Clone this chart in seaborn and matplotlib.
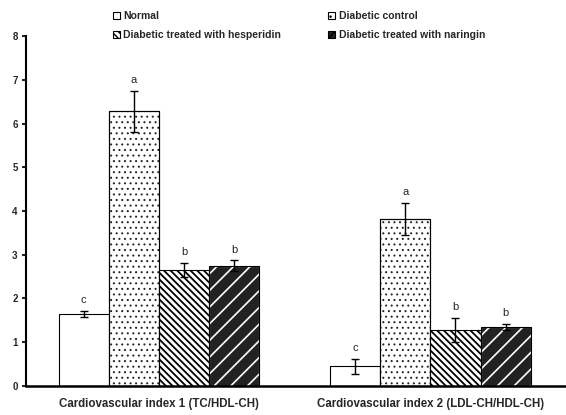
import matplotlib
matplotlib.use("Agg")
import matplotlib.pyplot as plt
from matplotlib.patches import Patch, Rectangle
import seaborn as sns
import pandas as pd

# values
categories = ["Cardiovascular index 1 (TC/HDL-CH)", "Cardiovascular index 2 (LDL-CH/HDL-CH)"]
groups = ["Normal", "Diabetic control", "Diabetic treated with hesperidin", "Diabetic treated with naringin"]
means = {
    "Normal": [1.65, 0.45],
    "Diabetic control": [6.28, 3.82],
    "Diabetic treated with hesperidin": [2.65, 1.28],
    "Diabetic treated with naringin": [2.75, 1.35],
}
errors = {
    "Normal": [0.07, 0.17],
    "Diabetic control": [0.47, 0.37],
    "Diabetic treated with hesperidin": [0.17, 0.28],
    "Diabetic treated with naringin": [0.12, 0.07],
}
letters = {
    "Normal": ["c", "c"],
    "Diabetic control": ["a", "a"],
    "Diabetic treated with hesperidin": ["b", "b"],
    "Diabetic treated with naringin": ["b", "b"],
}

rows = []
for g in groups:
    for i, c in enumerate(categories):
        rows.append({"index": c, "group": g, "value": means[g][i]})
df = pd.DataFrame(rows)

sns.set_style("white")
plt.rcParams["font.family"] = ["Liberation Sans", "DejaVu Sans"]
plt.rcParams["hatch.linewidth"] = 1.0

# fill, edge (hatch colour), hatch, hatch linewidth
styles = {
    "Normal": ("white", "black", "", 1.0),
    "Diabetic control": ("white", "#222222", "...", 0.7),
    "Diabetic treated with hesperidin": ("white", "black", "\\\\\\\\\\", 1.3),
    "Diabetic treated with naringin": ("#222222", "white", "//", 1.2),
}

fig = plt.figure(figsize=(5.66, 4.15), dpi=100)
ax = fig.add_axes([0.046, 0.070, 0.954, 0.843])

sns.barplot(data=df, x="index", y="value", hue="group", hue_order=groups,
            order=categories, palette=["white"] * 4, width=0.74,
            errorbar=None, edgecolor="black", linewidth=0.8, ax=ax, legend=False)

for cont, g in zip(ax.containers, groups):
    fc, ec, hatch, hlw = styles[g]
    xs, tops = [], []
    for bar in cont:
        bar.set_facecolor(fc)
        bar.set_edgecolor(ec)
        bar.set_hatch(hatch)
        if hasattr(bar, "set_hatch_linewidth"):
            bar.set_hatch_linewidth(hlw)
        if ec != "black":
            ax.add_patch(Rectangle(bar.get_xy(), bar.get_width(), bar.get_height(),
                                   fill=False, edgecolor="black", linewidth=0.8, zorder=3))
        xs.append(bar.get_x() + bar.get_width() / 2)
        tops.append(bar.get_height())
    ax.errorbar(xs, tops, yerr=errors[g], fmt="none", ecolor="black",
                elinewidth=1, capsize=3, capthick=1, zorder=4)
    for x, t, e, lab in zip(xs, tops, errors[g], letters[g]):
        ax.text(x, t + e + 0.13, lab, ha="center", va="bottom", fontsize=8)

ax.set_ylim(0, 8)
ax.set_xlim(-0.49, 1.5)
ax.set_yticks(range(0, 9))
ax.set_yticklabels([str(v) for v in range(0, 9)], fontsize=7, fontweight="bold")
ax.set_xticks([0, 1])
ax.set_xticklabels(categories, fontsize=8.3, fontweight="bold")
ax.set_xticks([0.5, 1.5], minor=True)
ax.tick_params(axis="x", which="major", length=0, pad=9)
ax.tick_params(axis="x", which="minor", length=3, width=1.5, direction="out")
ax.tick_params(axis="y", length=3, width=1.5, direction="out", pad=3, left=True)
ax.set_xlabel("")
ax.set_ylabel("")
for s in ["top", "right"]:
    ax.spines[s].set_visible(False)
ax.spines["left"].set_linewidth(1.5)
ax.spines["bottom"].set_linewidth(1.8)
ax.spines["left"].set_color("black")
ax.spines["bottom"].set_color("black")

# legend fills column-wise: put entries so rows read Normal/DC, hesperidin/naringin
legend_order = [groups[0], groups[2], groups[1], groups[3]]
handles = [Patch(facecolor=styles[g][0], edgecolor="black",
                 hatch=styles[g][2], linewidth=0.8) for g in legend_order]
fig.legend(handles, legend_order, loc="upper left", bbox_to_anchor=(0.183, 0.995), ncol=2,
           frameon=False, prop={"size": 7.5, "weight": "bold"},
           handlelength=0.7, handleheight=0.7, handletextpad=0.3,
           columnspacing=4.5, labelspacing=0.85)

fig.savefig("out.png", dpi=100)
